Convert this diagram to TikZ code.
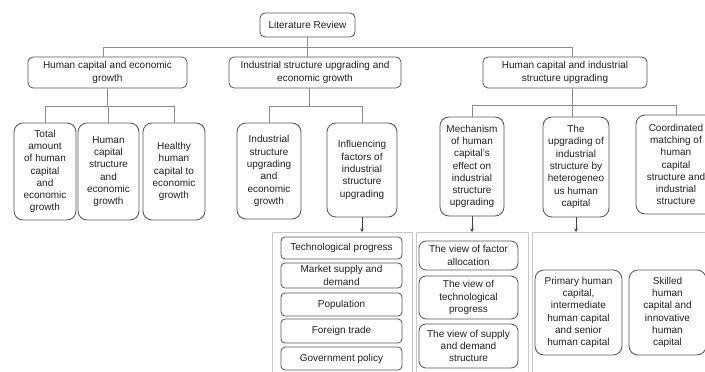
\documentclass[tikz,border=0pt]{standalone}
\usepackage{fontspec}
\setmainfont{Liberation Sans}
\usetikzlibrary{arrows.meta}
\definecolor{boxc}{HTML}{555555}
\definecolor{linec}{HTML}{8C8C8C}
\definecolor{contc}{HTML}{C8C8C8}
\definecolor{txt}{HTML}{222222}
\begin{document}
\begin{tikzpicture}[x=1pt,y=-1pt,
  every node/.style={font=\fontsize{10}{12.3}\selectfont, text=txt, align=center, inner sep=1pt},
  box/.style={draw=boxc, line width=0.8pt, rounded corners=5pt, fill=white},
  tall/.style={box, rounded corners=9pt},
  item/.style={box, rounded corners=4pt},
  conn/.style={draw=linec, line width=0.8pt},
  arr/.style={draw=black!75, line width=0.7pt, -{Stealth[length=3.5pt,width=3.5pt]}},
  cont/.style={draw=contc, line width=0.8pt}]
\clip (0,0) rectangle (705,372);

% top level
\node[box, minimum width=95pt, minimum height=24pt] (lit) at (307.5,25) {Literature Review};
\node[box, minimum width=159pt, minimum height=31pt] (a1) at (107.5,72.5) {Human capital and economic\\growth};
\node[box, minimum width=172pt, minimum height=31pt] (a2) at (315,72.5) {Industrial structure upgrading and\\economic growth};
\node[box, minimum width=164pt, minimum height=31pt] (a3) at (565,72.5) {Human capital and industrial\\structure upgrading};

% second level
\node[tall, minimum width=62pt, minimum height=97pt] (b1) at (45,171.5) {Total\\amount\\of human\\capital\\and\\economic\\growth};
\node[tall, minimum width=61pt, minimum height=97pt] (b2) at (108.5,171.5) {Human\\capital\\structure\\and\\economic\\growth};
\node[tall, minimum width=62pt, minimum height=97pt] (b3) at (174,171.5) {Healthy\\human\\capital to\\economic\\growth};
\node[tall, minimum width=64pt, minimum height=96pt] (c1) at (269,171) {Industrial\\structure\\upgrading\\and\\economic\\growth};
\node[tall, minimum width=70pt, minimum height=94pt] (c2) at (362,170) {Influencing\\factors of\\industrial\\structure\\upgrading};
\node[tall, minimum width=64pt, minimum height=99pt] (d1) at (472,166.5) {Mechanism\\of human\\capital's\\effect on\\industrial\\structure\\upgrading};
\node[tall, minimum width=66pt, minimum height=100pt] (d2) at (576,167) {The\\upgrading of\\industrial\\structure by\\heterogeneo\\us human\\capital};
\node[tall, minimum width=80pt, minimum height=99pt] (d3) at (676,164.5) {Coordinated\\matching of\\human\\capital\\structure and\\industrial\\structure};

% containers
\node[cont, anchor=north west, minimum width=140pt, minimum height=160pt] (k1) at (272,232) {};
\node[cont, anchor=north west, minimum width=112pt, minimum height=160pt] (k2) at (416,232) {};
\node[cont, anchor=north west, minimum width=200pt, minimum height=160pt] (k3) at (532,232) {};

% container 1 items
\node[item, minimum width=121pt, minimum height=22pt] (t1) at (341.5,248) {Technological progress};
\node[item, minimum width=121pt, minimum height=25pt] (t2) at (341.5,275.5) {Market supply and\\demand};
\node[item, minimum width=121pt, minimum height=23pt] (t3) at (341.5,304.5) {Population};
\node[item, minimum width=121pt, minimum height=24pt] (t4) at (341.5,331) {Foreign trade};
\node[item, minimum width=121pt, minimum height=23pt] (t5) at (341.5,358.5) {Government policy};

% container 2 items
\node[item, rounded corners=7pt, minimum width=99pt, minimum height=29pt] (u1) at (468.5,255.5) {The view of factor\\allocation};
\node[item, rounded corners=7pt, minimum width=99pt, minimum height=43pt] (u2) at (468.5,297.5) {The view of\\technological\\progress};
\node[item, rounded corners=7pt, minimum width=99pt, minimum height=44pt] (u3) at (468.5,346) {The view of supply\\and demand\\structure};

% container 3 items
\node[tall, minimum width=87pt, minimum height=85pt] (v1) at (578.5,312.5) {Primary human\\capital,\\intermediate\\human capital\\and senior\\human capital};
\node[tall, minimum width=77pt, minimum height=85pt] (v2) at (667.5,312.5) {Skilled\\human\\capital and\\innovative\\human\\capital};

% connectors level 1
\coordinate (j1) at (103,47);
\coordinate (j2) at (309,47);
\coordinate (j3) at (572,47);
\draw[conn] (lit.south) -- (lit.south |- a2.north);
\draw[conn] (a1.north -| j1) -- (j1) -- (j3) -- (a3.north -| j3);

% connectors level 2
\coordinate (bus1) at (0,106);
\coordinate (bus3) at (0,105);
\draw[conn] (a1.south) -- (a1.south |- bus1);
\draw[conn] (b1.north) |- (b3.north |- bus1) -- (b3.north);
\draw[conn] (b2.north) -- (b2.north |- bus1);
\draw[conn] (j2 |- a2.south) -- (j2 |- bus1);
\draw[conn] (c1.north) |- (c2.north |- bus1) -- (c2.north);
\draw[conn] (j3 |- a3.south) -- (j3 |- bus3);
\draw[conn] (d1.north) |- (d3.north |- bus3) -- (d3.north);
\draw[conn] (d2.north -| j3) -- (j3 |- bus3);

% arrows to containers
\draw[arr] (c2.south) -- (c2.south |- k1.north);
\draw[arr] (d1.south) -- (d1.south |- k2.north);
\draw[arr] (d2.south) -- (d2.south |- k3.north);
\end{tikzpicture}
\end{document}
